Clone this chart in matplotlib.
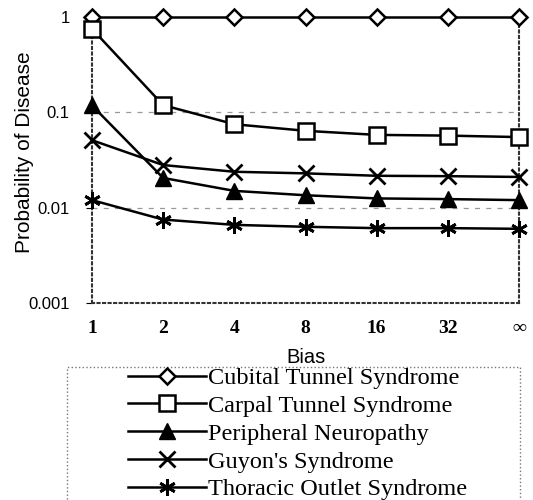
import matplotlib
matplotlib.use("Agg")
import matplotlib.pyplot as plt
from matplotlib.patches import Rectangle
import numpy as np

x_labels = ["1", "2", "4", "8", "16", "32", "\u221e"]
cubital = [1.0, 1.0, 1.0, 1.0, 1.0, 1.0, 1.0]
carpal = [0.75, 0.119, 0.075, 0.064, 0.058, 0.057, 0.055]
peripheral = [0.118, 0.0205, 0.015, 0.0135, 0.0125, 0.0123, 0.012]
guyon = [0.051, 0.028, 0.0238, 0.0229, 0.0216, 0.0214, 0.021]
thoracic = [0.012, 0.0075, 0.0066, 0.0063, 0.0061, 0.0061, 0.006]
series_names = ["Cubital Tunnel Syndrome", "Carpal Tunnel Syndrome",
                "Peripheral Neuropathy", "Guyon's Syndrome",
                "Thoracic Outlet Syndrome"]
y_ticks = [0.001, 0.01, 0.1, 1]
y_tick_labels = ["0.001", "0.01", "0.1", "1"]

W, H = 533, 500
fig = plt.figure(figsize=(5.33, 5.0), dpi=100)
ax = fig.add_axes([92/W, 1-303/H, (519-92)/W, (303-17)/H])

xs = np.arange(len(x_labels))
styles = [
    dict(marker="D", ms=8, mfc="white", mec="black", mew=1.8),
    dict(marker="s", ms=11, mfc="white", mec="black", mew=1.8),
    dict(marker="^", ms=11, mfc="black", mec="black", mew=1),
    dict(marker="x", ms=11, mfc="black", mec="black", mew=2),
    dict(marker=(6, 2, 0), ms=12, mfc="black", mec="black", mew=2),
]
data = [cubital, carpal, peripheral, guyon, thoracic]
handles = []
for vals, st, name in zip(data, styles, series_names):
    h, = ax.plot(xs, vals, color="black", lw=1.8, clip_on=False, label=name, zorder=3, **st)
    handles.append(h)

ax.set_yscale("log")
ax.set_ylim(0.001, 1)
ax.set_xlim(0, len(x_labels)-1)
ax.set_yticks(y_ticks)
ax.set_yticklabels(y_tick_labels, fontfamily="Liberation Sans", fontsize=12)
ax.yaxis.set_minor_locator(matplotlib.ticker.NullLocator())
ax.set_xticks(xs)
ax.set_xticklabels(x_labels, fontfamily="Liberation Serif", fontsize=14, fontweight="bold")
ax.tick_params(axis="x", length=0, pad=12)
ax.tick_params(axis="y", length=4, width=0.8, direction="out", pad=12)

for yv in [0.1, 0.01]:
    ax.axhline(yv, color="#999999", lw=0.9, ls=(0, (4, 5)), zorder=1)

for side in ["left", "right", "bottom"]:
    ax.spines[side].set_linestyle(":")
    ax.spines[side].set_linewidth(1.5)
    ax.spines[side].set_color("#333333")
ax.spines["top"].set_visible(False)

ax.set_ylabel("Probability of Disease", fontfamily="Liberation Sans", fontsize=15, labelpad=4)
ax.yaxis.set_label_coords(-0.137, 0.528)
ax.set_xlabel("Bias", fontfamily="Liberation Sans", fontsize=14.5, labelpad=8)

leg = fig.legend(handles=handles, loc="upper left", bbox_to_anchor=(128/W, 1-367/H),
                 frameon=False, handlelength=3.2, handletextpad=0.1,
                 labelspacing=0.24, borderpad=0.0, borderaxespad=0,
                 prop={"family": "Liberation Serif", "size": 17.5})

box = Rectangle((67/W, -0.05), (520-67)/W, (0.05 + 1-367/H), transform=fig.transFigure,
                fill=False, ls=":", ec="#777777", lw=1.0)
fig.add_artist(box)

fig.savefig("out.png", dpi=100)
